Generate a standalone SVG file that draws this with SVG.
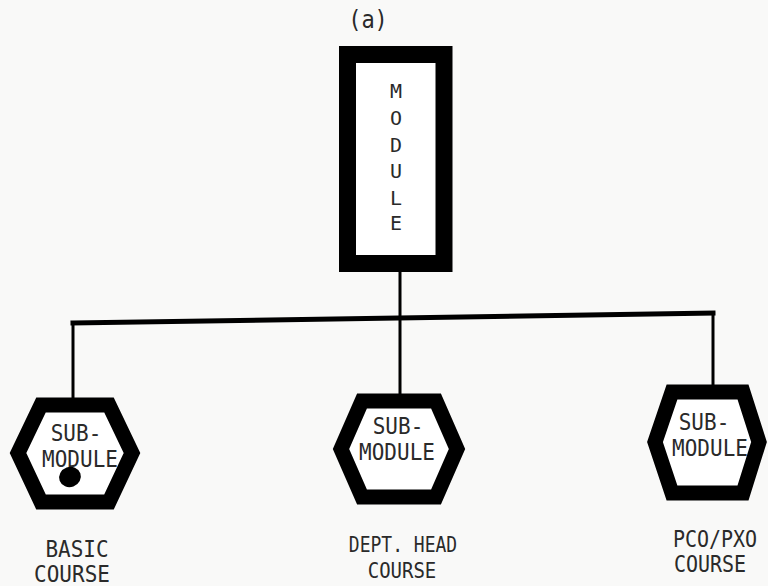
<svg xmlns="http://www.w3.org/2000/svg" width="768" height="586" viewBox="0 0 768 586">
<style>
.t{font-family:"DejaVu Sans Mono","Liberation Mono",monospace;fill:#2a2a2a;text-anchor:middle}
.hex{fill:#fff;stroke:#000;stroke-width:15;stroke-linejoin:miter}
.ln{stroke:#000;fill:none;stroke-linecap:square}
</style>
<rect width="768" height="586" fill="#f9f9f8"/>
<text class="t" font-size="22" transform="translate(368,28) scale(1,1.1)">(a)</text>
<g id="connectors">
<line class="ln" x1="400" y1="272" x2="400" y2="395" stroke-width="3"/>
<line class="ln" x1="73" y1="323" x2="713" y2="313" stroke-width="5"/>
<line class="ln" x1="73" y1="323" x2="73" y2="402" stroke-width="3"/>
<line class="ln" x1="713" y1="313" x2="713" y2="388" stroke-width="3"/>
</g>
<g id="module">
<rect x="347.5" y="54.5" width="96.5" height="209" fill="#fff" stroke="#000" stroke-width="17"/>
<text class="t" x="396" y="98" font-size="20">M</text>
<text class="t" x="396" y="125" font-size="20">O</text>
<text class="t" x="396" y="152" font-size="20">D</text>
<text class="t" x="396" y="178" font-size="20">U</text>
<text class="t" x="396" y="205" font-size="20">L</text>
<text class="t" x="396" y="230" font-size="20">E</text>
</g>
<g id="sub-basic">
<polygon class="hex" points="41,405 109,405 132,453 109,502 41,502 18,453"/>
<text class="t" font-size="21" transform="translate(76,441) scale(1,1.12)">SUB-</text>
<text class="t" font-size="21" transform="translate(80,467) scale(1,1.12)">MODULE</text>
<ellipse cx="70" cy="477" rx="11" ry="10" transform="rotate(-20 70 477)" fill="#000"/>
<text class="t" font-size="21" transform="translate(77,557) scale(1,1.12)">BASIC</text>
<text class="t" font-size="21" transform="translate(72,582) scale(1,1.12)">COURSE</text>
</g>
<g id="sub-depthead">
<polygon class="hex" points="362,401 436,401 457,449 436,497 362,497 341,449"/>
<text class="t" font-size="21" transform="translate(398,434) scale(1,1.12)">SUB-</text>
<text class="t" font-size="21" transform="translate(397,460) scale(1,1.12)">MODULE</text>
<text class="t" font-size="18" transform="translate(403,552) scale(1,1.2)">DEPT. HEAD</text>
<text class="t" font-size="19" transform="translate(402,578) scale(1,1.12)">COURSE</text>
</g>
<g id="sub-pcopxo">
<polygon class="hex" points="672,392 743,392 759,442 743,493 672,493 655,442"/>
<text class="t" font-size="21" transform="translate(704,430) scale(1,1.1)">SUB-</text>
<text class="t" font-size="21" transform="translate(710,456) scale(1,1.1)">MODULE</text>
<text class="t" font-size="20" transform="translate(715,547) scale(1,1.12)">PCO/PXO</text>
<text class="t" font-size="20" transform="translate(710,572) scale(1,1.12)">COURSE</text>
</g>
</svg>
